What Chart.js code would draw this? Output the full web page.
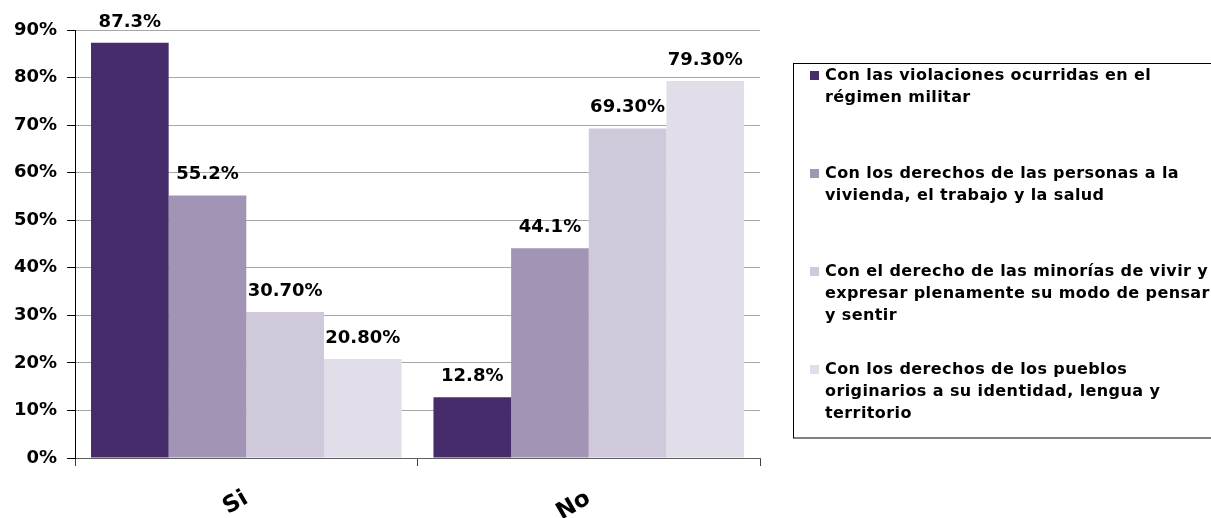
<!DOCTYPE html>
<html>
<head>
<meta charset="utf-8">
<script src="https://cdn.jsdelivr.net/npm/chart.js@4"></script>
<style>
  body { margin: 0; background: #fff; }
  #wrap { position: relative; width: 1211px; height: 518px; overflow: hidden; }
  #myChart { position: absolute; left: 0; top: 0; }
  #legend {
    position: absolute; left: 793px; top: 63px; width: 430px; height: 373px;
    border: 1px solid #000; border-bottom: 2px solid #808080;
    font: bold 16px "DejaVu Sans", sans-serif; letter-spacing: 0.4px; color: #000;
  }
  .item { position: absolute; left: 16px; line-height: 22px; }
  .box { position: absolute; left: 0; top: 7px; width: 9px; height: 9px; }
  .txt { margin-left: 15px; white-space: nowrap; }
</style>
</head>
<body>
<div id="wrap">
  <canvas id="myChart" width="1211" height="518"></canvas>
  <div id="legend"></div>
</div>
<script>
const categories = ["Si", "No"];
const seriesNames = [
  ["Con las violaciones ocurridas en el", "régimen militar"],
  ["Con los derechos de las personas a la", "vivienda, el trabajo y la salud"],
  ["Con el derecho de las minorías de vivir y", "expresar plenamente su modo de pensar", "y sentir"],
  ["Con los derechos de los pueblos", "originarios a su identidad, lengua y", "territorio"],
];
const violaciones = [87.3, 12.8];
const vivienda = [55.2, 44.1];
const minorias = [30.7, 69.3];
const pueblos = [20.8, 79.3];
const valueLabels = [
  ["87.3%", "12.8%"],
  ["55.2%", "44.1%"],
  ["30.70%", "69.30%"],
  ["20.80%", "79.30%"],
];
const colors = ["#472C6B", "#A294B4", "#D0C9DB", "#E1DEE9"];

const font = '"DejaVu Sans", sans-serif';

const valueLabelPlugin = {
  id: "valueLabels",
  afterDatasetsDraw(chart) {
    const ctx = chart.ctx;
    ctx.save();
    ctx.font = `bold 18px ${font}`;
    ctx.fillStyle = "#000";
    ctx.textAlign = "center";
    ctx.textBaseline = "alphabetic";
    chart.data.datasets.forEach((ds, i) => {
      chart.getDatasetMeta(i).data.forEach((bar, j) => {
        ctx.fillText(valueLabels[i][j], bar.x, bar.y - 16);
      });
    });
    ctx.restore();
  },
};

const series = [violaciones, vivienda, minorias, pueblos];

const chart = new Chart(document.getElementById("myChart"), {
  type: "bar",
  data: {
    labels: categories,
    datasets: series.map((data, i) => ({
      label: seriesNames[i],
      data,
      backgroundColor: colors[i],
      borderWidth: 0,
      categoryPercentage: 0.907,
      barPercentage: 1,
    })),
  },
  options: {
    responsive: false,
    animation: false,
    layout: {
      padding: { left: 4, right: 451, top: 30, bottom: 0 },
    },
    plugins: {
      legend: { display: false },
      tooltip: { enabled: false },
    },
    scales: {
      x: {
        afterFit(scale) {
          scale.height = 60;
        },
        grid: {
          offset: true,
          drawOnChartArea: false,
          tickLength: 8,
          tickColor: "#404040",
        },
        border: { color: "#606060", width: 1 },
        ticks: {
          font: { family: font, weight: "bold", size: 23 },
          color: "#000",
          minRotation: 30,
          maxRotation: 30,
          padding: 19,
        },
      },
      y: {
        min: 0,
        max: 90,
        z: 1,
        grid: {
          color: "rgba(60,60,60,0.45)",
          tickColor: "#000",
          tickLength: 8,
        },
        border: { color: "#000", width: 1 },
        ticks: {
          stepSize: 10,
          padding: 10,
          font: { family: font, weight: "bold", size: 18 },
          color: "#000",
          callback: (v) => v + "%",
        },
      },
    },
  },
  plugins: [valueLabelPlugin],
});

// legend built from the chart's datasets
const legend = document.getElementById("legend");
chart.data.datasets.forEach((ds, i) => {
  const item = document.createElement("div");
  item.className = "item";
  item.style.top = 0 + i * 98 + "px";
  item.innerHTML = `<span class="box" style="background:${ds.backgroundColor}"></span>` +
    `<div class="txt">${ds.label.join("<br>")}</div>`;
  legend.appendChild(item);
});
console.log(JSON.stringify(chart.chartArea));
</script>
</body>
</html>
